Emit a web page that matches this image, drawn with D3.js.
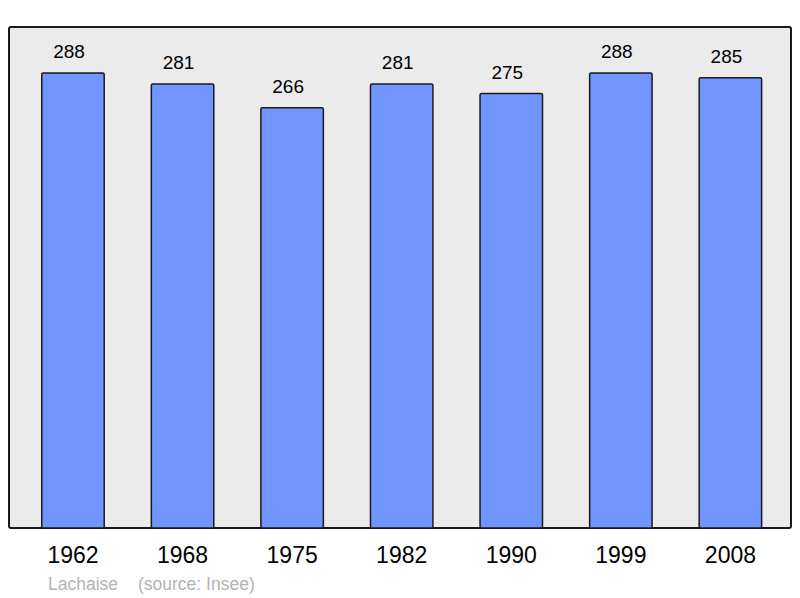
<!DOCTYPE html>
<meta charset="utf-8">
<style>
body { margin: 0; background: #fff; }
text { font-family: "Liberation Sans", Arial, sans-serif; }
</style>
<svg width="800" height="598"></svg>
<script src="https://d3js.org/d3.v7.min.js"></script>
<script>

var years = ["1962", "1968", "1975", "1982", "1990", "1999", "2008"];
var population = [288, 281, 266, 281, 275, 288, 285];
var commune = "Lachaise";
var source = "(source: Insee)";

var svg = d3.select("svg");

var x = d3.scaleBand()
    .domain(years)
    .range([18.2, 785.2])
    .paddingInner(0.43)
    .paddingOuter(0.215);

var y = d3.scaleLinear()
    .domain([0, 316.5])
    .range([528, 28]);

// panel
svg.append("rect")
    .attr("x", 9)
    .attr("y", 27)
    .attr("width", 782)
    .attr("height", 501)
    .attr("rx", 2)
    .attr("fill", "#ebebeb")
    .attr("stroke", "#1a1a1a")
    .attr("stroke-width", 2);

var data = years.map(function(d, i) { return {year: d, value: population[i]}; });

svg.append("g")
    .selectAll("rect")
    .data(data)
    .enter().append("rect")
    .attr("x", function(d) { return x(d.year); })
    .attr("y", function(d) { return y(d.value); })
    .attr("width", x.bandwidth())
    .attr("height", function(d) { return y(0) - y(d.value); })
    .attr("rx", 1.5)
    .attr("fill", "#7095ff")
    .attr("stroke", "#1a1a1a")
    .attr("stroke-width", 1.5);

svg.append("g")
    .selectAll("text")
    .data(data)
    .enter().append("text")
    .attr("x", function(d) { return x(d.year) + x.bandwidth() / 2 - 4; })
    .attr("y", function(d) { return y(d.value) - 15; })
    .attr("text-anchor", "middle")
    .attr("font-size", 19)
    .attr("fill", "#000")
    .text(function(d) { return d.value; });

// x axis labels
var axis = svg.append("g")
    .attr("transform", "translate(0,528)")
    .call(d3.axisBottom(x).tickSize(0).tickPadding(19));
axis.select(".domain").remove();
axis.selectAll("text")
    .attr("font-size", 23)
    .attr("font-family", "Liberation Sans, Arial, sans-serif")
    .attr("fill", "#000")
    .attr("dy", "0.71em");

svg.append("text")
    .attr("x", 48)
    .attr("y", 590)
    .attr("font-size", 17.5)
    .attr("fill", "#b3b3b3")
    .text(commune);

svg.append("text")
    .attr("x", 138)
    .attr("y", 590)
    .attr("font-size", 17.5)
    .attr("fill", "#b3b3b3")
    .text(source);

</script>
